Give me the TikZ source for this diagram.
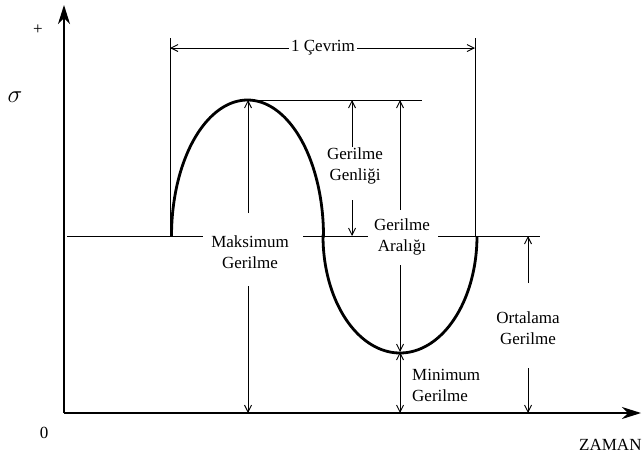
\documentclass[tikz,border=0pt]{standalone}
\usepackage{fontspec}
\setmainfont{Liberation Serif}
\usetikzlibrary{arrows.meta}
\begin{document}
\begin{tikzpicture}[x=1pt,y=-1pt,
  guide/.style={line width=0.9pt},
  axisline/.style={line width=1.3pt,-{Stealth[length=19pt,width=12pt,inset=6pt]}},
  dimarrow/.style={line width=0.9pt,-{Straight Barb[length=7pt,width=7pt]}},
  dimboth/.style={line width=0.9pt,{Straight Barb[length=7pt,width=7pt]}-{Straight Barb[length=7pt,width=7pt]}},
  curve/.style={line width=2.8pt},
  lbl/.style={font=\fontsize{17}{21}\selectfont, align=center, inner sep=0pt},
  small/.style={font=\fontsize{17}{19}\selectfont, inner sep=0pt}]
\useasboundingbox (0,0) rectangle (642,456);
% axes
\coordinate (O) at (64,413);
\coordinate (Ytop) at (64,5);
\coordinate (Xend) at (641,413);
\draw[axisline] (O) -- (Ytop);
\draw[axisline] (O) -- (Xend);
\node[small] (plus) at (38,30) {+};
\node[inner sep=0pt] (sig) at (15,97) {\fontsize{24}{24}\selectfont$\sigma$};
\node[small] (zero) at (44,433) {0};
\node[small, anchor=west] (zaman) at (579,445) {ZAMAN};
% mean line segments
\coordinate (m0) at (67,236);
\coordinate (m1) at (203,236);
\coordinate (m2) at (303,236);
\coordinate (m3) at (368,236);
\coordinate (m4) at (438,236);
\coordinate (m5) at (540,236);
\draw[guide] (m0) -- (m1);
\draw[guide] (m2) -- (m3);
\draw[guide] (m4) -- (m5);
% cycle boundaries
\coordinate (c1t) at (170,38);
\coordinate (c1b) at (170,236);
\coordinate (c2t) at (475,38);
\coordinate (c2b) at (475,236);
\coordinate (c1m) at (170,48);
\coordinate (c2m) at (475,48);
\draw[guide] (c1t) -- (c1b);
\draw[guide] (c2t) -- (c2b);
\node[lbl, inner xsep=2pt] (cyc) at (323,48) {1 Çevrim};
\draw[dimarrow] (cyc.west) -- (c1m);
\draw[dimarrow] (cyc.east) -- (c2m);
% top (maximum) line
\coordinate (maxP) at (248,100);
\coordinate (topEnd) at (422,100);
\draw[guide] (maxP) -- (topEnd);
% curve
\draw[curve] plot[domain=180:0,samples=90] ({247.5+76*cos(\x)},{236-136*sin(\x)})
  -- plot[domain=180:360,samples=90] ({400+77*cos(\x)},{236-117*sin(\x)});
% labels
\node[lbl] (Lmax) at (250,252) {Maksimum\\Gerilme};
\node[lbl] (Lgen) at (355,166) {Gerilme\\Genliği};
\node[lbl] (Lara) at (402,237) {Gerilme\\Aralığı};
\node[lbl, anchor=west, align=left] (Lmin) at (412,385) {Minimum\\Gerilme};
\node[lbl] (Lort) at (528,328) {Ortalama\\Gerilme};
% maksimum gerilme
\coordinate (mxA) at (248,213);
\coordinate (mxB) at (248,286);
\coordinate (mxBot) at (248,413);
\draw[dimarrow] (mxA) -- (maxP);
\draw[dimarrow] (mxB) -- (mxBot);
% gerilme genligi
\coordinate (gnTop) at (352,100);
\coordinate (gnA) at (352,147);
\coordinate (gnB) at (352,200);
\coordinate (gnBot) at (352,236);
\draw[dimarrow] (gnA) -- (gnTop);
\draw[dimarrow] (gnB) -- (gnBot);
% gerilme araligi
\coordinate (arTop) at (400,100);
\coordinate (arA) at (400,210);
\coordinate (arB) at (400,265);
\coordinate (minP) at (400,352);
\draw[dimarrow] (arA) -- (arTop);
\draw[dimarrow] (arB) -- (minP);
% minimum gerilme
\coordinate (minBot) at (400,413);
\draw[dimboth] (minP) -- (minBot);
% ortalama gerilme
\coordinate (orTop) at (528,236);
\coordinate (orA) at (528,283);
\coordinate (orB) at (528,368);
\coordinate (orBot) at (528,413);
\draw[dimarrow] (orA) -- (orTop);
\draw[dimarrow] (orB) -- (orBot);
\end{tikzpicture}
\end{document}
